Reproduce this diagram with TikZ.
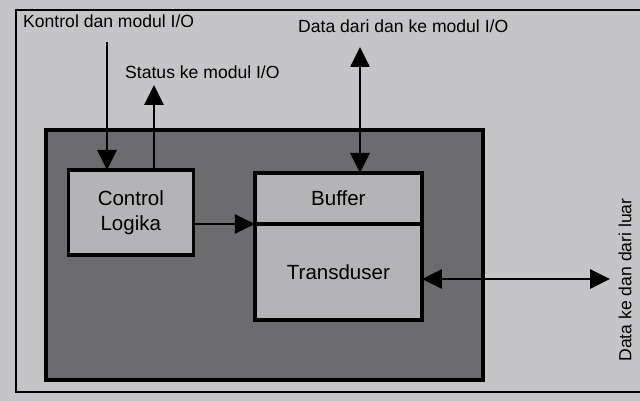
\documentclass[tikz,border=0pt]{standalone}
\usepackage{fontspec}
\setmainfont{Liberation Sans}
\usetikzlibrary{arrows.meta,positioning}
\definecolor{paper}{RGB}{197,197,200}
\definecolor{panelgray}{RGB}{108,108,111}
\definecolor{boxgray}{RGB}{180,180,182}
\tikzset{
  ioarr/.style={-{Triangle[length=0.6cm,width=0.57cm]}, line width=2.5pt},
  ioboth/.style={{Triangle[length=0.6cm,width=0.57cm]}-{Triangle[length=0.6cm,width=0.57cm]}, line width=2.5pt},
  iobox/.style={draw, line width=3pt, fill=boxgray, outer sep=0pt, align=center, font=\fontsize{17.5}{21}\selectfont},
  iolabel/.style={font=\fontsize{15}{18}\selectfont, inner sep=0pt},
}
\begin{document}
\begin{tikzpicture}[x=0.03cm, y=-0.03cm]
  \useasboundingbox (0,0) rectangle (640,401);
  \fill[paper] (0,0) rectangle (640,401);
  % outer frame, open on the right
  \draw[line width=1.6pt] (640,10) -- (16,10) -- (16,392) -- (640,392);
  \node[draw, line width=3pt, fill=panelgray, minimum width=13.11cm, minimum height=7.5cm] (panel) at (264.5,255) {};
  \node[iobox, minimum width=3.75cm, minimum height=2.55cm] (logic) at (130.8,212.5) {Control\\Logika};
  \node[iobox, minimum width=5.01cm, minimum height=1.53cm] (buffer) at (338.4,198.5) {Buffer};
  \node[iobox, minimum width=5.01cm, minimum height=2.88cm, below=0pt of buffer] (trans) {Transduser};
  % labels
  \node[iolabel, anchor=west] (ctlin) at (23,21) {Kontrol dan modul I/O};
  \node[iolabel, anchor=west] (stout) at (125,72) {Status ke modul I/O};
  \node[iolabel, anchor=west] (datio) at (298,26) {Data dari dan ke modul I/O};
  \node[iolabel, rotate=90] (extio) at (625,280) {Data ke dan dari luar};
  \coordinate (ctltop) at (107,42);
  \coordinate (sttop) at (154,85);
  \coordinate (dattop) at (360,47);
  \coordinate (extend) at (610,279);
  % connectors
  \draw[ioarr] (ctltop) -- (ctltop |- logic.north);
  \draw[ioarr] (sttop |- logic.north) -- (sttop);
  \draw[ioboth] (dattop) -- (dattop |- buffer.north);
  \draw[ioarr] (logic.east |- buffer.south) -- (buffer.south west);
  \draw[ioboth] (trans.east |- extend) -- (extend);
\end{tikzpicture}
\end{document}
